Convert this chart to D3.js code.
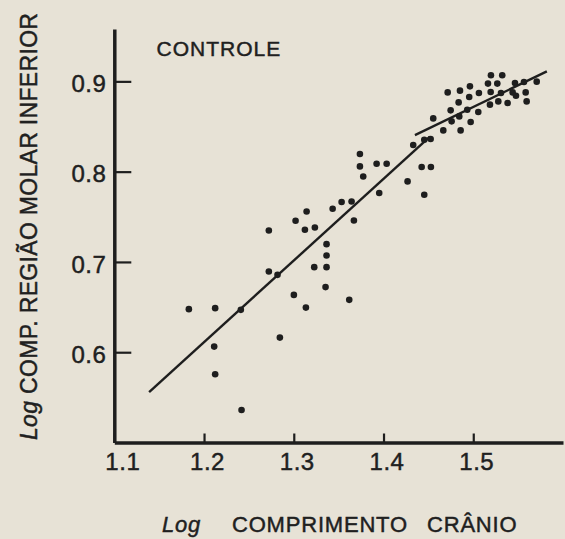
<!DOCTYPE html>
<html>
<head>
<meta charset="utf-8">
<script src="https://cdn.jsdelivr.net/npm/d3@7"></script>
<style>
  html, body { margin: 0; padding: 0; background: #e7e2d6; }
  svg { display: block; }
  text { font-family: "Liberation Sans", Arial, sans-serif; fill: #202020; stroke: #202020; stroke-width: 0.45px; }
</style>
</head>
<body>
<div id="chart"></div>
<script>
// Data (log skull length vs log lower molar region length)
var xValues = [
  1.1831, 1.2124, 1.2410, 1.2113, 1.2124, 1.2418, 1.2722, 1.2722, 1.2819, 1.2845,
  1.3001, 1.3020, 1.3124, 1.3143, 1.3135, 1.3235, 1.3228, 1.3365, 1.3365, 1.3365,
  1.3354, 1.3433, 1.3533, 1.3618, 1.3644, 1.3670, 1.3737, 1.3737, 1.3774, 1.3923,
  1.4035, 1.3952, 1.4268, 1.4425, 1.4528, 1.4454, 1.4331, 1.4454, 1.4525, 1.4554,
  1.4666, 1.4859, 1.4759, 1.4971, 1.4844, 1.4748, 1.4933, 1.5056, 1.4837, 1.4955,
  1.5186, 1.5279, 1.5383, 1.5476, 1.5595, 1.4715, 1.4852, 1.4963, 1.5063, 1.5194,
  1.5309, 1.5439, 1.5584, 1.5164, 1.5268, 1.5465, 1.5565, 1.5707, 1.5197, 1.5323
];
var yValues = [
  0.6477, 0.6488, 0.6469, 0.6062, 0.5756, 0.5360, 0.7348, 0.6894, 0.6857, 0.6162,
  0.6635, 0.7456, 0.7356, 0.7559, 0.6494, 0.7381, 0.6942, 0.7197, 0.7071, 0.6942,
  0.6721, 0.7589, 0.7664, 0.6580, 0.7670, 0.7459, 0.8195, 0.8058, 0.7947, 0.8088,
  0.8088, 0.7763, 0.7892, 0.8051, 0.8051, 0.7744, 0.8295, 0.8354, 0.8361, 0.8590,
  0.8457, 0.8457, 0.8557, 0.8550, 0.8612, 0.8679, 0.8686, 0.8661, 0.8767, 0.8827,
  0.8742, 0.8778, 0.8761, 0.8841, 0.8778, 0.8878, 0.8897, 0.8945, 0.8871, 0.8882,
  0.8871, 0.8878, 0.8878, 0.8975, 0.8975, 0.8982, 0.8993, 0.8997, 0.9067, 0.9067
];

// Fitted lines (start / end)
var lowerLine = [[1.1388, 0.5558], [1.4517, 0.8387]];
var upperLine = [[1.4350, 0.8405], [1.5820, 0.9110]];

var xTicks = [1.1, 1.2, 1.3, 1.4, 1.5];
var yTicks = [0.6, 0.7, 0.8, 0.9];

var width = 565, height = 539;
var ink = "#1e1e1e";

var svg = d3.select("#chart").append("svg")
  .attr("width", width)
  .attr("height", height);

// Scales
var x = d3.scaleLinear().domain([1.1, 1.6]).range([114.3, 563]);
var y = d3.scaleLinear().domain([0.5, 0.958]).range([442.5, 29]);

// Y axis (ticks point inwards)
var yAxis = svg.append("g")
  .attr("transform", "translate(" + x(1.1) + ",0)")
  .call(d3.axisLeft(y).tickValues(yTicks).tickFormat(d3.format(".1f"))
    .tickSizeInner(-17).tickSizeOuter(0).tickPadding(8));

// X axis
var xAxis = svg.append("g")
  .attr("transform", "translate(0," + y(0.5) + ")")
  .call(d3.axisBottom(x).tickValues(xTicks).tickFormat(d3.format(".1f"))
    .tickSizeInner(-9).tickSizeOuter(0).tickPadding(10));

[yAxis, xAxis].forEach(function (g) {
  g.select(".domain").attr("stroke", ink).attr("stroke-width", 3.5);
  g.selectAll(".tick line").attr("stroke", ink).attr("stroke-width", 2.2);
  g.selectAll(".tick text")
    .attr("fill", ink)
    .style("font-size", "24px")
    .style("letter-spacing", "0.5px");
});
xAxis.selectAll(".tick text").attr("dx", function (d) { return d === 1.1 ? 8 : 3; });
yAxis.selectAll(".tick text").attr("dy", "0.42em");

// Regression lines
[lowerLine, upperLine].forEach(function (l) {
  svg.append("line")
    .attr("x1", x(l[0][0])).attr("y1", y(l[0][1]))
    .attr("x2", x(l[1][0])).attr("y2", y(l[1][1]))
    .attr("stroke", ink)
    .attr("stroke-width", 2.4);
});

// Points
svg.append("g").selectAll("circle")
  .data(xValues.map(function (v, i) { return [v, yValues[i]]; }))
  .enter().append("circle")
  .attr("cx", function (d) { return x(d[0]); })
  .attr("cy", function (d) { return y(d[1]); })
  .attr("r", 3.3)
  .attr("fill", ink);

// Panel label
svg.append("text")
  .attr("x", 156.5).attr("y", 56)
  .style("font-size", "21px")
  .style("letter-spacing", "1px")
  .text("CONTROLE");

// X title
var xt = svg.append("text")
  .attr("y", 532)
  .style("font-size", "22px")
  .style("letter-spacing", "0.8px");
xt.append("tspan").attr("x", 162).style("font-style", "italic").text("Log");
xt.append("tspan").attr("x", 232).text("COMPRIMENTO");
xt.append("tspan").attr("x", 427).text("CRÂNIO");

// Y title
var yt = svg.append("text")
  .attr("transform", "translate(37,440) rotate(-90)")
  .attr("textLength", 427)
  .style("font-size", "23px");
yt.append("tspan").style("font-style", "italic").text("Log");
yt.append("tspan").text(" COMP. REGIÃO MOLAR INFERIOR");
</script>
</body>
</html>
